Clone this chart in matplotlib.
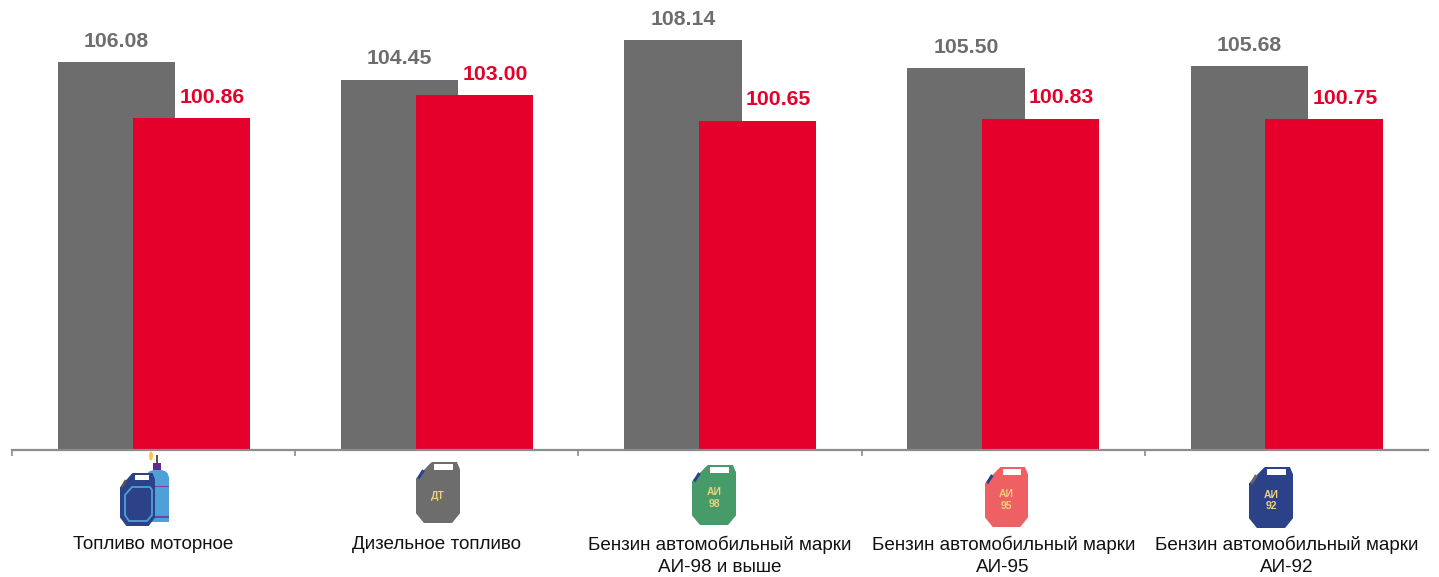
import numpy as np
import matplotlib
matplotlib.use("Agg")
import matplotlib.pyplot as plt
from matplotlib.patches import Polygon, Rectangle, FancyBboxPatch, Ellipse

plt.rcParams['font.family'] = ['Liberation Sans', 'DejaVu Sans']

# Data
categories = ["Топливо моторное", "Дизельное топливо",
              "Бензин автомобильный марки\nАИ-98 и выше",
              "Бензин автомобильный марки\nАИ-95",
              "Бензин автомобильный марки\nАИ-92"]
grey_values = [106.08, 104.45, 108.14, 105.50, 105.68]
red_values = [100.86, 103.00, 100.65, 100.83, 100.75]

GREY = "#6d6d6d"
RED = "#e4002b"
W, H = 1439, 577
base = 70
scale = 10.75  # px per unit

fig = plt.figure(figsize=(W / 100, H / 100), dpi=100)
ax = fig.add_axes([12 / W, (H - 450) / H, 1416 / W, 450 / H])

x = np.arange(len(categories))
width = 0.414
ax.bar(x - 0.131, grey_values, width, color=GREY, zorder=2)
ax.bar(x + 0.1325, red_values, width, color=RED, zorder=3)

# Value labels
for i in x:
    ax.annotate(f"{grey_values[i]:.2f}", (i - 0.131, grey_values[i]), xytext=(0, 15),
                textcoords="offset points", ha="center", va="center",
                color=GREY, fontsize=15.3, fontweight="bold")
    ax.annotate(f"{red_values[i]:.2f}", (i + 0.1325, red_values[i]), xytext=(15, 15),
                textcoords="offset points", ha="center", va="center",
                color=RED, fontsize=15.3, fontweight="bold", zorder=5)

ax.set_xlim(-0.5, len(categories) - 0.5)
ax.set_ylim(base, base + 450 / scale)
ax.set_yticks([])
for s in ["top", "left", "right"]:
    ax.spines[s].set_visible(False)
ax.spines["bottom"].set_color("#8c8c8c")
ax.spines["bottom"].set_linewidth(1.6)
ax.spines["bottom"].set_zorder(4)

ax.set_xticks(x)
ax.set_xticklabels(categories, fontsize=13.6, color="#111111", linespacing=1.38, va="top")
ax.set_xticks(np.arange(len(categories)) - 0.5, minor=True)
ax.tick_params(axis="x", which="major", length=0, pad=62)
ax.tick_params(axis="x", which="minor", length=4.5, width=1.2, color="#8c8c8c")

# Overlay in pixels for the canister pictures
ov = fig.add_axes([0, 0, 1, 1])
ov.set_xlim(0, W)
ov.set_ylim(H, 0)
ov.axis("off")
ov.patch.set_alpha(0)


def can(left, top, w, h, color, label=None, spout="#2b4289"):
    # jerry can outline in unit coordinates
    pts = [(0.30, 0.04), (0.36, 0), (0.93, 0), (1, 0.12), (1, 0.84), (0.82, 1),
           (0.18, 1), (0, 0.84), (0, 0.27)]
    ov.add_patch(Polygon([(left + a * w, top + b * h) for a, b in pts], closed=True,
                         fc=color, ec="none"))
    ov.add_patch(Rectangle((left + 0.42 * w, top + 0.04 * h), 0.42 * w, 0.09 * h, fc="white", ec="none"))
    ov.add_patch(Polygon([(left + 0.03 * w, top + 0.25 * h), (left + 0.14 * w, top + 0.12 * h),
                          (left + 0.2 * w, top + 0.15 * h), (left + 0.07 * w, top + 0.29 * h)],
                         closed=True, fc=spout, ec="none"))
    if label:
        ov.text(left + 0.5 * w, top + 0.55 * h, label, color="#ecd27a", fontsize=7.5,
                fontweight="bold", ha="center", va="center", linespacing=1.15)


# cylinder + can for motor fuel
ov.add_patch(FancyBboxPatch((146, 470), 23, 52, boxstyle="round,pad=0,rounding_size=9", fc="#4f9fd9", ec="none"))
ov.add_patch(Rectangle((146, 512), 23, 10, fc="#4f9fd9", ec="none"))
ov.add_patch(Rectangle((153, 463), 8, 7, fc="#5b2d8c", ec="none"))
ov.add_patch(Rectangle((156, 455), 1.5, 8, fc="#555555", ec="none"))
ov.add_patch(Ellipse((151, 456), 4, 9, fc="#f2c94c", ec="none"))
ov.add_patch(Rectangle((146, 486), 23, 1.2, fc="#7a3f9d", ec="none"))
ov.add_patch(Rectangle((146, 516), 23, 1.8, fc="#7a3f9d", ec="none"))
can(120, 473, 35, 53, "#2b4289", spout="#555555")
ov.add_patch(Polygon([(125, 495), (132, 487), (150, 487), (152, 490), (152, 515), (147, 521),
                      (129, 521), (125, 515)], closed=True, fc="none", ec="#4f9fd9", lw=1.3))

can(416, 462, 44, 61, GREY, "ДТ")
can(692, 465, 44, 60, "#479b68", "АИ\n98")
can(985, 467, 43, 60, "#ee6063", "АИ\n95")
can(1249, 467, 44, 61, "#2b4289", "АИ\n92", spout="#666666")

fig.savefig("out.png", dpi=100)
